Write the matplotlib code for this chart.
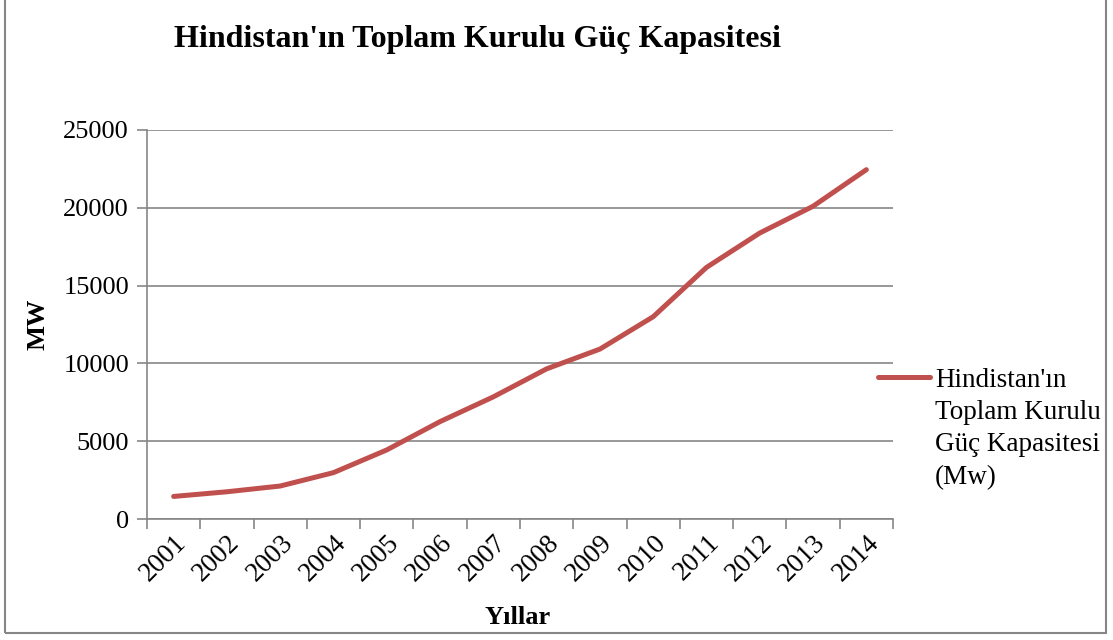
import matplotlib
matplotlib.use("Agg")
import matplotlib.pyplot as plt
from matplotlib.patches import Rectangle
from matplotlib.lines import Line2D

years = ["2001", "2002", "2003", "2004", "2005", "2006", "2007",
         "2008", "2009", "2010", "2011", "2012", "2013", "2014"]
capacity = [1450, 1750, 2120, 2980, 4440, 6260, 7850,
            9650, 10920, 13000, 16170, 18380, 20100, 22450]
yticks = [0, 5000, 10000, 15000, 20000, 25000]
title = "Hindistan'ın Toplam Kurulu Güç Kapasitesi"
legend_label = "Hindistan'ın\nToplam Kurulu\nGüç Kapasitesi\n(Mw)"

plt.rcParams['font.family'] = ['Liberation Serif', 'DejaVu Serif']

fig = plt.figure(figsize=(11.13, 6.4), dpi=100)
ax = fig.add_axes([147/1113, 1-519/640, (893-147)/1113, (519-130)/640])

x = list(range(len(years)))
line, = ax.plot(x, capacity, color='#C0504D', lw=3.6, solid_capstyle='round',
                solid_joinstyle='round', label=legend_label)

ax.set_xlim(-0.5, len(years) - 0.5)
ax.set_ylim(0, 25000)
ax.set_yticks(yticks)
ax.set_yticklabels([str(v) for v in yticks], fontsize=19)
ax.set_xticks([i - 0.5 for i in range(len(years) + 1)], minor=False)
ax.set_xticklabels([])
ax.set_xticks(x, minor=True)
ax.set_xticklabels(years, minor=True, rotation=45, ha='right', va='top',
                   rotation_mode='anchor', fontsize=19.5)
ax.tick_params(axis='x', which='minor', length=0, pad=8)
ax.tick_params(axis='x', which='major', length=7, color='#868686', width=1.2)
ax.tick_params(axis='y', length=7, color='#868686', width=1.2, pad=6)

ax.grid(axis='y', color='#868686', lw=1.2)
ax.set_axisbelow(True)
for s in ['top', 'right']:
    ax.spines[s].set_visible(False)
for s in ['left', 'bottom']:
    ax.spines[s].set_color('#868686')
    ax.spines[s].set_linewidth(1.2)

ax.set_ylabel("MW", fontsize=19, fontweight='bold')
ax.yaxis.set_label_coords(-0.131, 0.5)
fig.text(518/1113, 1-617/640, "Yıllar", fontsize=19, fontweight='bold',
         ha='center', va='center')
fig.text(478/1113, 1-40/640, title, fontsize=23, fontweight='bold',
         ha='center', va='center')

# legend (drawn from the series' own line style and label)
fig.add_artist(Line2D([878/1113, 930/1113], [1-377/640, 1-377/640],
                      color=line.get_color(), lw=line.get_linewidth(),
                      solid_capstyle='round', transform=fig.transFigure))
fig.text(935/1113, 1-368/640, line.get_label(), fontsize=19.5,
         ha='left', va='top', linespacing=1.38)

fig.patches.append(Rectangle((5/1113, 7/640), 1101/1113, 640/640, fill=False,
                             edgecolor='#868686', lw=1.5, transform=fig.transFigure))

fig.savefig("out.png", dpi=100, facecolor='white')
